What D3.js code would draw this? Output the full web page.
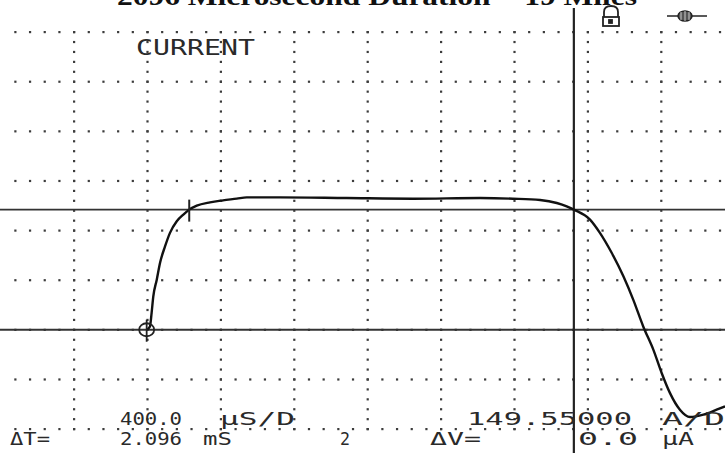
<!DOCTYPE html>
<html>
<head>
<meta charset="utf-8">
<script src="https://cdn.jsdelivr.net/npm/d3@7"></script>
<style>
  html, body { margin: 0; padding: 0; background: #fff; }
  svg { display: block; }
  .mono { font-family: "DejaVu Sans Mono", monospace; fill: #2a2a2a; }
</style>
</head>
<body>
<svg id="scope" width="725" height="453"></svg>
<script>
// Trace: time in microseconds, current in amperes
const timeUs = [796, 814, 823, 832, 851, 869, 896, 923, 960, 996, 1028, 1069, 1141, 1212, 1287,
  1341, 1523, 1886, 2247, 2613, 2792, 2940, 3031, 3085, 3124, 3212, 3266, 3330, 3394, 3448,
  3502, 3557, 3603, 3648, 3702, 3757, 3830, 3902, 3948];
const currentA = [0, 10, 51, 100, 151, 202, 251, 292, 327, 347, 362, 374, 384, 390, 395,
  399, 399, 397, 395, 397, 395, 391, 382, 372, 362, 332, 292, 232, 161, 90,
  10, -60, -131, -191, -241, -263, -256, -241, -231];

// Screen settings
const timePerDiv = 400;        // µs per division
const ampsPerDiv = 149.55;     // A per division
const xDivs = 10, yDivsBelow = 2, yDivsAbove = 6;

// Cursors
const startMarker = { t: 796, a: 0 };
const cursorTimes = [1028, 3124];   // ΔT = 2.096 ms
const cursorLevel = 362;            // both cursors at the same level, ΔV = 0

const titleText = "2096 Microsecond Duration = 19 Miles";
const channelLabel = "CURRENT";
const readoutTop = [
  { text: "400.0", x: 120, w: 62 },
  { text: "µS/D", x: 220, w: 75 },
  { text: "149.55000", x: 467, w: 165 },
  { text: "A/D", x: 662, w: 63 }
];
const readoutBottom = [
  { text: "ΔT=", x: 10, w: 40 },
  { text: "2.096", x: 120, w: 62 },
  { text: "mS", x: 203, w: 29 },
  { text: "2", x: 340, w: 10 },
  { text: "ΔV=", x: 430, w: 51 },
  { text: "0.0", x: 578, w: 60 },
  { text: "µA", x: 662, w: 32 }
];

const svg = d3.select("#scope");
const W = 725, H = 453;

const x = d3.scaleLinear().domain([0, xDivs * timePerDiv]).range([0.6, 734.6]);
const y = d3.scaleLinear()
  .domain([-yDivsBelow * ampsPerDiv, yDivsAbove * ampsPerDiv])
  .range([429, 32]);

// Dotted graticule: major lines drawn as rows of dots (5 dots per division)
const g = svg.append("g").attr("fill", "#3c3c3c");
const xMajor = d3.range(1, xDivs).map(i => i * timePerDiv);
const yMajor = d3.range(-yDivsBelow, yDivsAbove + 1).map(i => i * ampsPerDiv);
const xMinor = d3.range(1, xDivs * 5).map(i => i * timePerDiv / 5);
const yMinor = d3.range(-yDivsBelow * 5, yDivsAbove * 5 + 1).map(i => i * ampsPerDiv / 5);

yMajor.forEach(v => {
  g.selectAll(null).data(xMinor.filter(t => x(t) < W)).join("rect")
    .attr("x", t => x(t) - 1).attr("y", y(v) - 1).attr("width", 2.2).attr("height", 2.2);
});
xMajor.forEach(t => {
  g.selectAll(null).data(yMinor).join("rect")
    .attr("x", x(t) - 1).attr("y", v => y(v) - 1).attr("width", 2.2).attr("height", 2.2);
});

// Horizontal reference lines: zero and cursor level
svg.selectAll(null).data([0, cursorLevel]).join("line")
  .attr("x1", 0).attr("x2", W)
  .attr("y1", d => y(d)).attr("y2", d => y(d))
  .attr("stroke", "#333").attr("stroke-width", 1.8);

// Vertical cursor
svg.append("line")
  .attr("x1", x(cursorTimes[1])).attr("x2", x(cursorTimes[1]))
  .attr("y1", 8).attr("y2", H)
  .attr("stroke", "#222").attr("stroke-width", 2.2);

// Current trace
const line = d3.line().x((d, i) => x(timeUs[i])).y(d => y(d)).curve(d3.curveMonotoneX);
svg.append("path")
  .attr("d", line(currentA))
  .attr("fill", "none").attr("stroke", "#111").attr("stroke-width", 2.4);

// First cursor tick
svg.append("line")
  .attr("x1", x(cursorTimes[0])).attr("x2", x(cursorTimes[0]))
  .attr("y1", y(cursorLevel) - 10).attr("y2", y(cursorLevel) + 12)
  .attr("stroke", "#222").attr("stroke-width", 2);

// Start marker: circle with a cross
const sm = svg.append("g").attr("stroke", "#222").attr("fill", "none").attr("stroke-width", 1.8);
sm.append("ellipse").attr("cx", x(startMarker.t)).attr("cy", y(startMarker.a)).attr("rx", 7.5).attr("ry", 6.5);
sm.append("line").attr("x1", x(startMarker.t)).attr("x2", x(startMarker.t))
  .attr("y1", y(startMarker.a) - 10).attr("y2", y(startMarker.a) + 12);

// Lock icon
const lock = svg.append("g").attr("stroke", "#222").attr("fill", "none").attr("stroke-width", 1.8);
lock.append("path").attr("d", "M604,17 L604,12 Q604,6 611,6 Q618,6 618,12 L618,17");
lock.append("rect").attr("x", 603).attr("y", 17).attr("width", 16).attr("height", 9);
lock.append("rect").attr("x", 609).attr("y", 20).attr("width", 3).attr("height", 3).attr("fill", "#222");

// Trigger symbol
const trg = svg.append("g").attr("stroke", "#222");
trg.append("line").attr("x1", 667).attr("x2", 707).attr("y1", 16).attr("y2", 16).attr("stroke-width", 1.5);
trg.append("ellipse").attr("cx", 685).attr("cy", 16).attr("rx", 7).attr("ry", 5)
  .attr("fill", "#555").attr("stroke-width", 1.5);
trg.append("path").attr("d", "M681,12 L681,20 M685,11 L685,21 M689,12 L689,20")
  .attr("stroke", "#eee").attr("stroke-width", 0.8);

// Title (runs off the top edge)
svg.append("text")
  .attr("x", 117).attr("y", 5)
  .attr("textLength", 520).attr("lengthAdjust", "spacingAndGlyphs")
  .style("font-family", "'Liberation Serif', serif").style("font-weight", "bold")
  .style("font-size", "26px").attr("fill", "#111")
  .text(titleText);

// Channel label
svg.append("text").attr("class", "mono")
  .attr("x", 136).attr("y", 55)
  .attr("textLength", 119).attr("lengthAdjust", "spacingAndGlyphs")
  .style("font-size", "21px")
  .text(channelLabel);

// Readouts
svg.selectAll(null).data(readoutTop).join("text").attr("class", "mono")
  .attr("x", d => d.x).attr("y", 425)
  .attr("textLength", d => d.w).attr("lengthAdjust", "spacingAndGlyphs")
  .style("font-size", "18px")
  .text(d => d.text);
svg.selectAll(null).data(readoutBottom).join("text").attr("class", "mono")
  .attr("x", d => d.x).attr("y", 445)
  .attr("textLength", d => d.w).attr("lengthAdjust", "spacingAndGlyphs")
  .style("font-size", "18px")
  .text(d => d.text);
</script>
</body>
</html>
